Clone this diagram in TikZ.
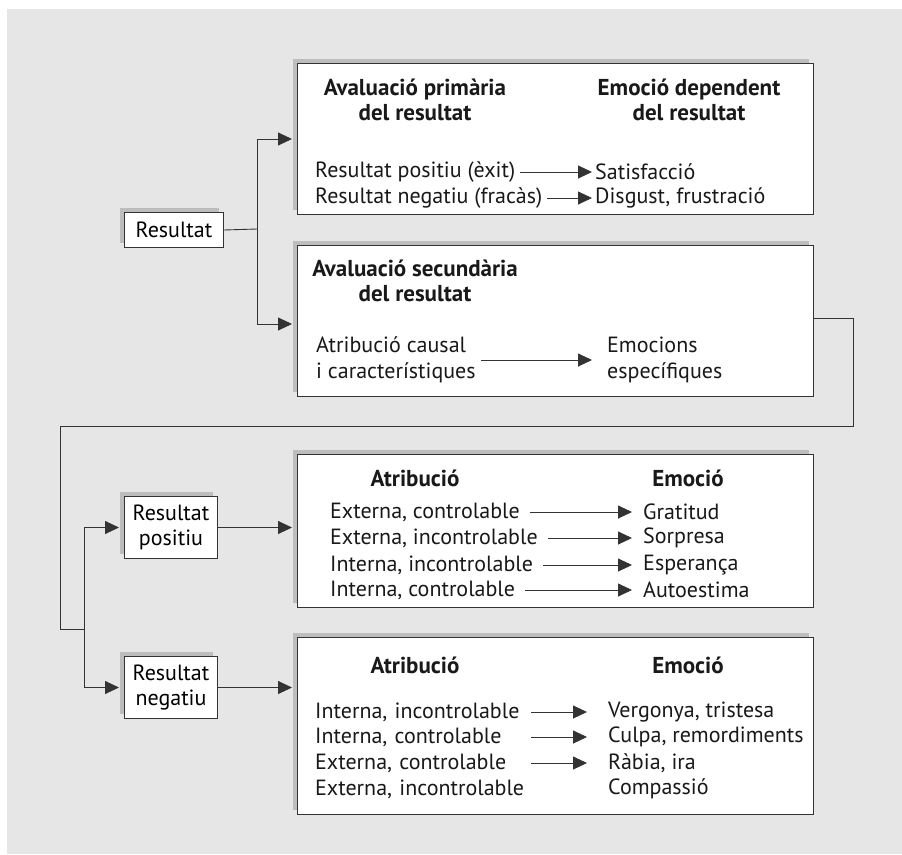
\documentclass[tikz,border=0pt]{standalone}
\usepackage{fontspec}
\setmainfont{PT Sans}
\usetikzlibrary{arrows.meta,shadows}
\definecolor{panelgray}{HTML}{E6E6E6}
\definecolor{shadegray}{HTML}{BDBDBD}
\definecolor{inkgray}{HTML}{333333}

\begin{document}
\begin{tikzpicture}[x=1pt, y=-1pt,
        font=\fontsize{22}{25.5}\selectfont,
        panel/.style={rectangle, draw=inkgray, line width=1pt, fill=white, inner sep=0pt, anchor=north west, align=center,
            general shadow={fill=shadegray, shadow xshift=-5pt, shadow yshift=5pt}},
        txt/.style={inner sep=2pt, anchor=west, align=left, text=black!90},
        head/.style={inner sep=2pt, align=center, text=black!90, font=\fontsize{23}{25.5}\selectfont\bfseries},
        link/.style={draw=inkgray, line width=0.9pt},
        tip/.style={link, -{Triangle[length=14pt, width=13pt]}}
    ]
    \useasboundingbox (0,0) rectangle (902,854);
    \fill[panelgray] (7,9) rectangle (902,854);

    % left column
    \node[panel, minimum width=99pt, minimum height=35pt] (res) at (124,212) {Resultat};
    \node[panel, minimum width=93pt, minimum height=62pt] (posres) at (124,496) {Resultat\\positiu};
    \node[panel, minimum width=93pt, minimum height=62pt] (negres) at (124,656) {Resultat\\negatiu};

    % primary appraisal
    \node[panel, minimum width=516pt, minimum height=151pt] (prim) at (297,63) {};
    \node[head] (primL) at (415,100) {Avaluació primària\\del resultat};
    \node[head] (primR) at (689,100) {Emoció dependent\\del resultat};
    \node[txt] (pa) at (313,172) {Resultat positiu (èxit)};
    \node[txt] (pb) at (313,198) {Resultat negatiu (fracàs)};
    \node[txt] (ea) at (593,172) {Satisfacció};
    \node[txt] (eb) at (593,198) {Disgust, frustració};
    \draw[tip, shorten <=3pt, shorten >=1pt] (pa) -- (ea);
    \draw[tip, shorten <=3pt, shorten >=1pt] (pb) -- (eb);

    % secondary appraisal
    \node[panel, minimum width=516pt, minimum height=151pt] (sec) at (297,245) {};
    \node[head] (secT) at (415,281) {Avaluació secundària\\del resultat};
    \node[txt] (cause) at (314,360) {Atribució causal\\i característiques};
    \node[txt] (emo) at (605,360) {Emocions\\específiques};
    \draw[tip, shorten <=3pt, shorten >=13pt] (cause) -- (emo);

    % positive outcome
    \node[panel, minimum width=516pt, minimum height=153pt] (posbox) at (297,454) {};
    \node[head] (posL) at (415,478) {Atribució};
    \node[head] (posR) at (688,478) {Emoció};
    \node[txt] (qa) at (328,512) {Externa, controlable};
    \node[txt] (qb) at (328,538) {Externa, incontrolable};
    \node[txt] (qc) at (328,565) {Interna, incontrolable};
    \node[txt] (qd) at (328,590) {Interna, controlable};
    \node[txt] (ga) at (641,512) {Gratitud};
    \node[txt] (gb) at (641,538) {Sorpresa};
    \node[txt] (gc) at (641,565) {Esperança};
    \node[txt] (gd) at (641,590) {Autoestima};
    \draw[tip, shorten <=8pt, shorten >=9pt] (qa) -- (ga);
    \draw[tip, shorten <=8pt, shorten >=9pt] (qb) -- (gb);
    \draw[tip, shorten <=8pt, shorten >=9pt] (qc) -- (gc);
    \draw[tip, shorten <=8pt, shorten >=9pt] (qd) -- (gd);

    % negative outcome
    \node[panel, minimum width=516pt, minimum height=177pt] (negbox) at (297,637) {};
    \node[head] (negL) at (415,665) {Atribució};
    \node[head] (negR) at (688,665) {Emoció};
    \node[txt, text width=214pt] (na) at (313,712) {Interna, incontrolable};
    \node[txt, text width=214pt] (nb) at (313,737) {Interna, controlable};
    \node[txt, text width=214pt] (nc) at (313,763) {Externa, controlable};
    \node[txt, text width=214pt] (nd) at (313,789) {Externa, incontrolable};
    \node[txt] (ma) at (606,712) {Vergonya, tristesa};
    \node[txt] (mb) at (606,737) {Culpa, remordiments};
    \node[txt] (mc) at (606,763) {Ràbia, ira};
    \node[txt] (md) at (606,789) {Compassió};
    \draw[tip, shorten <=0pt, shorten >=19pt] (na) -- (ma);
    \draw[tip, shorten <=0pt, shorten >=19pt] (nb) -- (mb);
    \draw[tip, shorten <=0pt, shorten >=19pt] (nc) -- (mc);

    % connectors
    \coordinate (fork) at (257,229);
    \draw[link] (res.east) -- (fork);
    \draw[tip, shorten >=5pt] (fork) |- (prim.west);
    \draw[tip, shorten >=5pt] (fork) |- ([yshift=-3pt]sec.west);
    \coordinate (loop) at (60,426);
    \coordinate (split) at (84,629);
    \draw[link] ([yshift=3pt]sec.east) -- ++(39,0) |- (loop) |- (split);
    \draw[tip, shorten >=5pt] (split) |- (posres.west);
    \draw[tip, shorten >=5pt] (split) |- (negres.west);
    \draw[tip, shorten >=5pt] (posres.east) -- (posres.east -| posbox.west);
    \draw[tip, shorten >=5pt] (negres.east) -- (negres.east -| negbox.west);
\end{tikzpicture}
\end{document}
